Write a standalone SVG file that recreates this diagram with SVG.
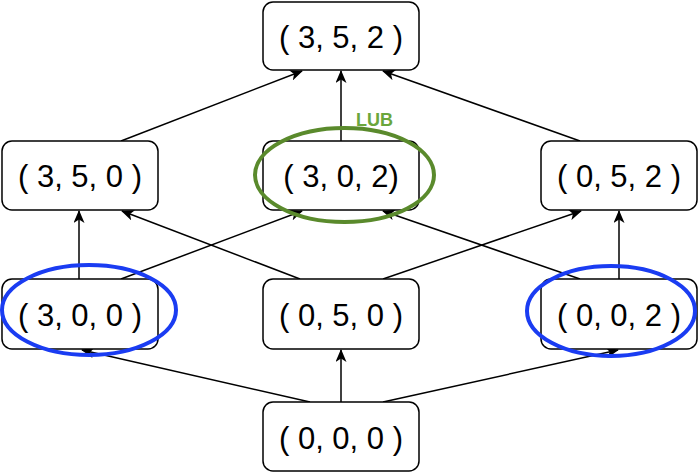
<svg xmlns="http://www.w3.org/2000/svg" width="700" height="473" viewBox="0 0 700 473">
<defs>
<style>
.box{fill:#fff;stroke:#000;stroke-width:1.5}
.lbl{font-family:"Liberation Sans",Arial,sans-serif;font-size:31px;fill:#000;text-anchor:middle}
.edge{stroke:#000;stroke-width:1.5;fill:none;marker-end:url(#arr)}
.blue{fill:none;stroke:#1a3cf2;stroke-width:4}
.green{fill:none;stroke:#5a8a2c;stroke-width:4}
.lub{font-family:"Liberation Sans",Arial,sans-serif;font-size:18px;font-weight:bold;fill:#6aa63c}
</style>
<marker id="arr" viewBox="0 0 13 11" refX="12" refY="5.5" markerWidth="13" markerHeight="11" markerUnits="userSpaceOnUse" orient="auto">
<path d="M0,0 L13,5.5 L0,11 L3.5,5.5 z" fill="#000"/>
</marker>
</defs>
<g id="connectors">
<line class="edge" x1="121" y1="141" x2="302" y2="71"/>
<line class="edge" x1="341" y1="141" x2="341" y2="71"/>
<line class="edge" x1="580" y1="141" x2="383" y2="71"/>
<line class="edge" x1="79" y1="279" x2="79" y2="211"/>
<line class="edge" x1="121" y1="279" x2="302" y2="211"/>
<line class="edge" x1="300" y1="279" x2="122" y2="211"/>
<line class="edge" x1="383" y1="279" x2="581" y2="211"/>
<line class="edge" x1="580" y1="279" x2="383" y2="211"/>
<line class="edge" x1="619" y1="279" x2="619" y2="211"/>
<line class="edge" x1="310" y1="402" x2="82" y2="350"/>
<line class="edge" x1="341" y1="402" x2="341" y2="350"/>
<line class="edge" x1="383" y1="402" x2="618" y2="350"/>
</g>
<g id="n352"><rect class="box" x="263" y="2" width="156" height="68" rx="10"/><text class="lbl" x="341" y="48">( 3, 5, 2 )</text></g>
<g id="n350"><rect class="box" x="2" y="141" width="156" height="69" rx="10"/><text class="lbl" x="80" y="187">( 3, 5, 0 )</text></g>
<g id="n302"><rect class="box" x="263" y="141" width="156" height="69" rx="10"/><text class="lbl" x="341" y="187">( 3, 0, 2)</text></g>
<g id="n052"><rect class="box" x="541" y="141" width="156" height="69" rx="10"/><text class="lbl" x="619" y="187">( 0, 5, 2 )</text></g>
<g id="n300"><rect class="box" x="2" y="279" width="156" height="70" rx="10"/><text class="lbl" x="80" y="326">( 3, 0, 0 )</text></g>
<g id="n050"><rect class="box" x="263" y="279" width="156" height="70" rx="10"/><text class="lbl" x="341" y="326">( 0, 5, 0 )</text></g>
<g id="n002"><rect class="box" x="541" y="279" width="156" height="70" rx="10"/><text class="lbl" x="619" y="326">( 0, 0, 2 )</text></g>
<g id="n000"><rect class="box" x="263" y="402" width="156" height="69" rx="10"/><text class="lbl" x="341" y="449">( 0, 0, 0 )</text></g>
<g id="highlights">
<ellipse class="blue" cx="89" cy="310" rx="87" ry="45"/>
<ellipse class="blue" cx="611" cy="311" rx="84" ry="45"/>
<ellipse class="green" cx="344.5" cy="175" rx="89.5" ry="47"/>
<text class="lub" x="356" y="126">LUB</text>
</g>
</svg>
